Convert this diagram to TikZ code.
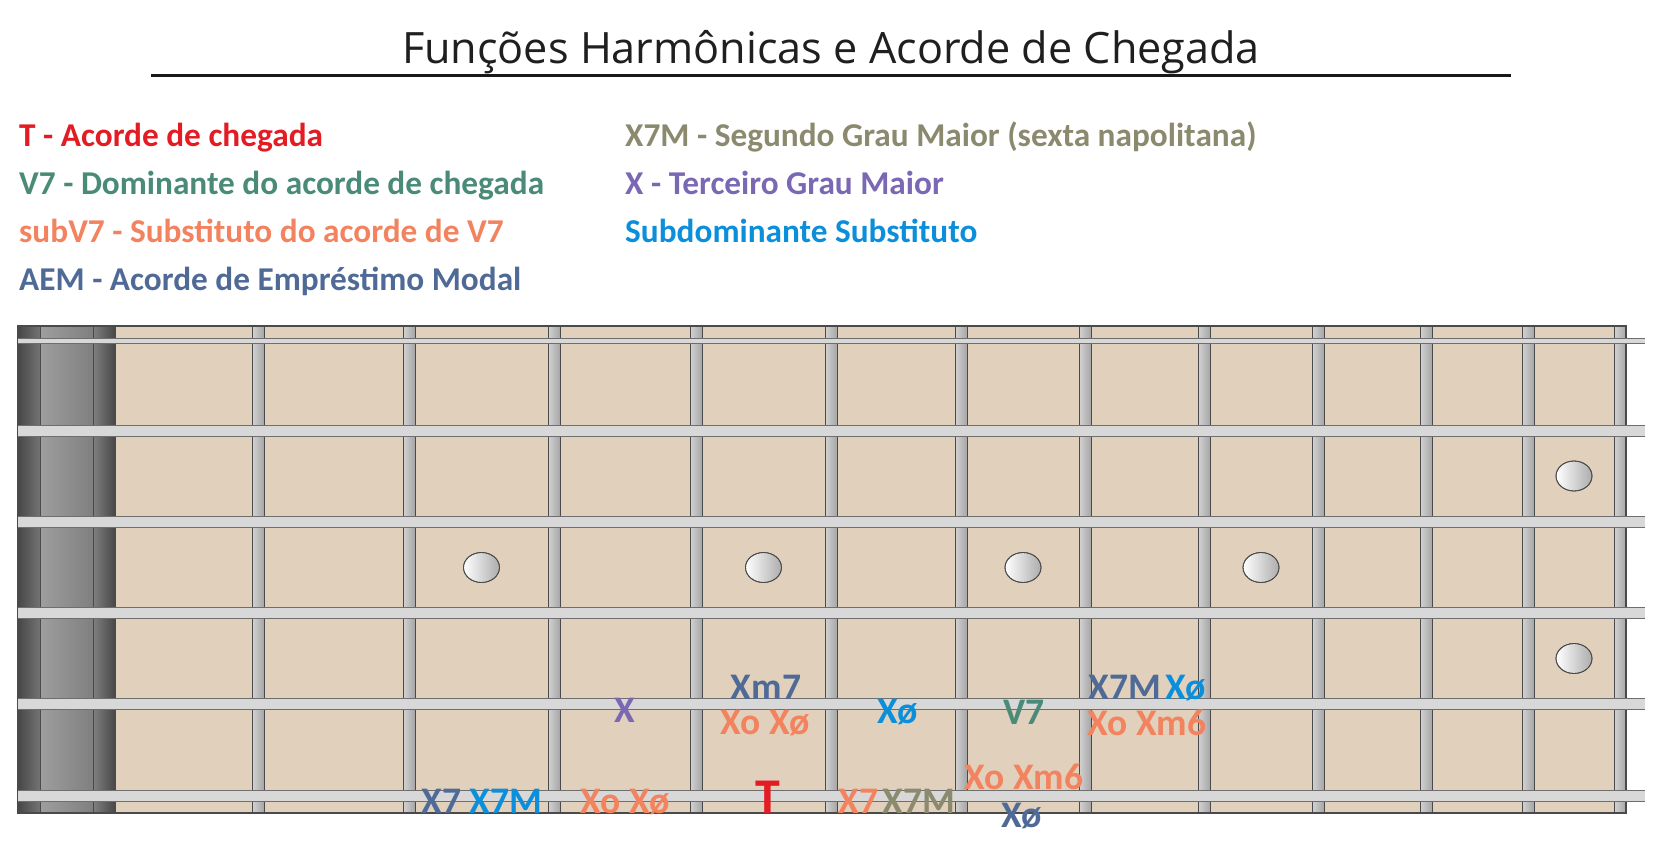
\documentclass[tikz,border=0pt]{standalone}
\usepackage{fontspec}
\setmainfont{Carlito}
\newfontfamily\titlefont{Open Sans}
\definecolor{cRed}{HTML}{E31B23}
\definecolor{cGreen}{HTML}{4A8B78}
\definecolor{cSalmon}{HTML}{F3825F}
\definecolor{cSlate}{HTML}{4F6A96}
\definecolor{cOlive}{HTML}{8B8A6E}
\definecolor{cPurple}{HTML}{7B68B5}
\definecolor{cBlue}{HTML}{0B8FDA}
\definecolor{cBoard}{HTML}{E0D0BC}
\definecolor{cString}{HTML}{D8D8D8}
\definecolor{cEdge}{HTML}{4A4A4A}
\tikzset{
  legendtext/.style={anchor=base west, inner sep=0pt, font=\bfseries\fontsize{33.3}{38}\selectfont},
  chordlbl/.style={anchor=base, inner sep=0pt, font=\bfseries\fontsize{37.5}{42}\selectfont},
  fretbar/.style={left color=gray!35, middle color=white, right color=gray!70},
  inlay/.style={draw=cEdge, line width=0.8pt, left color=white, right color=gray!65},
}
\begin{document}
\begin{tikzpicture}[x=1pt,y=-1pt]
\path[use as bounding box, fill=white] (0,0) rectangle (1660,858);
% title
\node[anchor=base, inner sep=0pt, font=\titlefont\fontsize{43.2}{50}\selectfont, text=black!88] (title) at (831,64) {Funções Harmônicas e Acorde de Chegada};
\coordinate (ulA) at (151,76);
\coordinate (ulB) at (1511,76);
\draw[line width=3pt, black!90] (ulA) -- (ulB);
% legend
\node[legendtext, text=cRed] (legT) at (19,147) {T - Acorde de chegada};
\node[legendtext, text=cGreen] (legV) at (19,195) {V7 - Dominante do acorde de chegada};
\node[legendtext, text=cSalmon] (legSub) at (19,243) {subV7 - Substituto do acorde de V7};
\node[legendtext, text=cSlate] (legAEM) at (19,291) {AEM - Acorde de Empréstimo Modal};
\node[legendtext, text=cOlive] (legII) at (625,147) {X7M - Segundo Grau Maior (sexta napolitana)};
\node[legendtext, text=cPurple] (legIII) at (625,195) {X - Terceiro Grau Maior};
\node[legendtext, text=cBlue] (legSD) at (625,243) {Subdominante Substituto};
% fretboard
\fill[cBoard] (115,326) rectangle (1626,813);
% nut
\shade[left color=black!72, right color=black!55] (18,326) rectangle (40,813);
\shade[left color=black!38, right color=black!50] (40,326) rectangle (93,813);
\shade[left color=black!50, right color=black!72] (93,326) rectangle (115,813);
\draw[cEdge, line width=0.8pt] (40,326) -- (40,813) (93,326) -- (93,813) (115,326) -- (115,813);
% frets
\foreach \x in {258,409,554,696,831,961,1085,1204,1318,1426,1528,1620}{
  \shade[fretbar] (\x-6,326) rectangle (\x+6,813);
  \draw[cEdge, line width=0.8pt] (\x-6,326) -- (\x-6,813) (\x+6,326) -- (\x+6,813);
}
% border
\draw[cEdge, line width=1.5pt] (18,326) rectangle (1626,813);
% inlays
\foreach \x/\y in {481.5/567.5, 763.5/567.5, 1023/567.5, 1261/567.5, 1574/476, 1574/658.5}{
  \shade[inlay] (\x,\y) ellipse [x radius=18, y radius=15];
  \draw[cEdge, line width=0.8pt] (\x,\y) ellipse [x radius=18, y radius=15];
}
% strings
\foreach \y/\w in {341/5, 431/11, 522/11, 613/11, 704/11, 796/11}{
  \fill[cString] (18,\y-\w/2) rectangle (1645,\y+\w/2);
  \draw[cEdge!80, line width=0.8pt] (18,\y-\w/2) -- (1645,\y-\w/2) (18,\y+\w/2) -- (1645,\y+\w/2);
}
% chord labels
\node[chordlbl, text=cPurple] (lX) at (625,722) {X};
\node[chordlbl, text=cSlate] (lXmS) at (766,699) {Xm7};
\node[chordlbl, text=cSalmon] (lXoA) at (765,734) {Xo Xø};
\node[chordlbl, text=cBlue] (lXhA) at (898,723) {Xø};
\node[chordlbl, text=cGreen] (lV) at (1024,724) {V7};
\node[chordlbl] (lXSM) at (1147,699) {\textcolor{cSlate}{X7M}\hspace{4pt}\textcolor{cBlue}{Xø}};
\node[chordlbl, text=cSalmon] (lXoB) at (1147,735) {Xo Xm6};
\node[chordlbl, text=cSalmon] (lXoC) at (1024,789) {Xo Xm6};
\node[chordlbl, text=cSlate] (lXhB) at (1022,827) {Xø};
\node[chordlbl] (lBa) at (482,813) {\textcolor{cSlate}{X7} \textcolor{cBlue}{X7M}};
\node[chordlbl, text=cSalmon] (lBb) at (625,813) {Xo Xø};
\node[anchor=base, inner sep=0pt, font=\bfseries\fontsize{50}{54}\selectfont, text=cRed] (lT) at (768,813) {T};
\node[chordlbl] (lBc) at (897,813) {\textcolor{cSalmon}{X7}\hspace{4pt}\textcolor{cOlive}{X7M}};
\end{tikzpicture}
\end{document}
